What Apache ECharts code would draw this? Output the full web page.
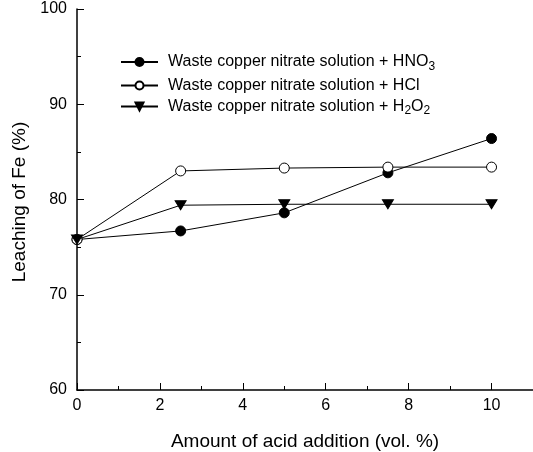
<!DOCTYPE html>
<html><head><meta charset="utf-8">
<script src="https://cdn.jsdelivr.net/npm/echarts@6/dist/echarts.min.js"></script>
<style>html,body{margin:0;padding:0;background:#fff}#c{width:533px;height:452px}</style>
</head><body><div id="c"></div>
<script>
var xValues = [0, 2.5, 5, 7.5, 10];
var hno3 = [75.8, 76.7, 78.6, 82.8, 86.4];
var hcl = [75.8, 83.0, 83.3, 83.4, 83.4];
var h2o2 = [75.8, 79.4, 79.5, 79.5, 79.5];
var seriesNames = ['HNO3', 'HCl', 'H2O2'];
var xTicks = [0, 2, 4, 6, 8, 10];
var yTicks = [60, 70, 80, 90, 100];

function pairs(vals){ return xValues.map(function(x,i){return [x, vals[i]];}); }
var font = 'Liberation Sans, Arial, sans-serif';
var chart = echarts.init(document.getElementById('c'));
var base = {type:'line', lineStyle:{color:'#000', width:1}, symbolSize:10, z:3};
chart.setOption({
  animation:false,
  backgroundColor:'#fff',
  grid:{left:77, top:9, right:0, bottom:62, containLabel:false, outerBoundsMode:'none'},
  legend:{
    orient:'vertical', left:115, top:49, itemWidth:37, itemHeight:10, itemGap:5,
    textStyle:{fontFamily:font, fontSize:16, color:'#000', padding:[0,0,0,5],
      rich:{
        t:{fontFamily:font, fontSize:16, color:'#000'},
        s:{fontFamily:font, fontSize:12, color:'#000', verticalAlign:'bottom', padding:[9,0,0,0]}
      }},
    formatter:function(n){
      if(n==='HNO3') return '{t|Waste copper nitrate solution + HNO}{s|3}';
      if(n==='HCl') return '{t|Waste copper nitrate solution + HCl}';
      return '{t|Waste copper nitrate solution + H}{s|2}{t|O}{s|2}';
    },
    data:seriesNames
  },
  xAxis:{type:'value', min:0, max:11, interval:2,
    name:'Amount of acid addition (vol. %)', nameLocation:'middle', nameGap:42,
    nameTextStyle:{fontFamily:font, fontSize:19, color:'#000'},
    axisLine:{lineStyle:{color:'#000', width:1.5}},
    axisTick:{show:true, inside:true, length:7, lineStyle:{color:'#000'}},
    minorTick:{show:true, splitNumber:2, length:4, lineStyle:{color:'#000'}},
    splitLine:{show:false},
    axisLabel:{fontFamily:font, fontSize:16, color:'#000', margin:8, showMaxLabel:false,
      formatter:function(v){ return xTicks.indexOf(v)>=0 ? String(v) : ''; }}
  },
  yAxis:{type:'value', min:60, max:100, interval:10,
    name:'Leaching of Fe (%)', nameLocation:'middle', nameGap:38,
    nameTextStyle:{fontFamily:font, fontSize:19, color:'#000', padding:[0,5,0,0]},
    axisLine:{show:true, lineStyle:{color:'#000', width:1.5}},
    axisTick:{show:true, inside:true, length:7, lineStyle:{color:'#000'}},
    minorTick:{show:true, splitNumber:2, length:4, lineStyle:{color:'#000'}},
    splitLine:{show:false},
    axisLabel:{fontFamily:font, fontSize:16, color:'#000', margin:10,
      formatter:function(v){ return yTicks.indexOf(v)>=0 ? String(v) : ''; }}
  },
  series:[
    Object.assign({}, base, {name:'HNO3', data:pairs(hno3), symbol:'circle', itemStyle:{color:'#000', borderColor:'#000', borderWidth:1}}),
    Object.assign({}, base, {name:'HCl', data:pairs(hcl), symbol:'circle', itemStyle:{color:'#fff', borderColor:'#000', borderWidth:1}}),
    Object.assign({}, base, {name:'H2O2', data:pairs(h2o2), symbol:'triangle', symbolRotate:180, symbolSize:[11,9], itemStyle:{color:'#000', borderColor:'#000', borderWidth:1}})
  ]
});
</script></body></html>
